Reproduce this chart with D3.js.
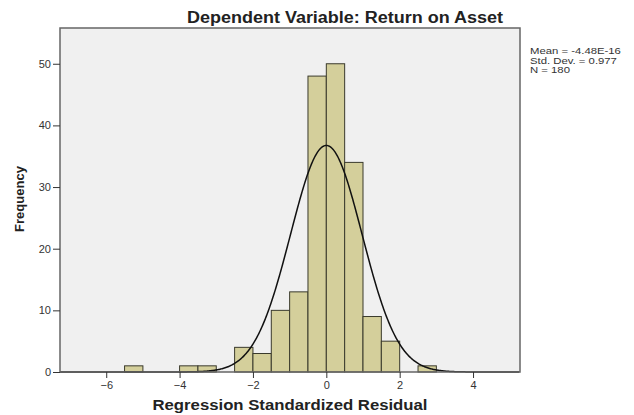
<!DOCTYPE html>
<html lang="en">
<head>
    <meta charset="UTF-8">
    <script src="https://d3js.org/d3.v7.min.js"></script>
    <title>Histogram</title>
    <style>
    body { margin: 0; background: #fff; }
    text { font-family: "Liberation Sans", Arial, sans-serif; fill: #222; }
    .axis .domain { stroke: none; }
    .axis line { stroke: #333; }
    .axis text { font-size: 11px; fill: #333; }
    </style>
</head>
<body>
    <svg id="hist" width="634" height="415"></svg>
    <script>
        // bins of the standardized residual (width 0.5) and their counts
        const binStart = [-5.5, -4, -3.5, -2.5, -2, -1.5, -1, -0.5, 0, 0.5, 1, 1.5, 2.5];
        const counts   = [1, 1, 1, 4, 3, 10, 13, 48, 50, 34, 9, 5, 1];
        const binWidth = 0.5;

        const xTicks = [-6, -4, -2, 0, 2, 4];
        const yTicks = [0, 10, 20, 30, 40, 50];

        const mean = -4.48e-16;
        const sd = 0.977;
        const n = 180;
        const statLines = ['Mean = -4.48E-16', 'Std. Dev. = 0.977', 'N = 180'];

        const svg = d3.select('svg#hist');
        const margins = {top: 28, right: 114, bottom: 43, left: 60};
        const width = +svg.attr('width');
        const height = +svg.attr('height');
        const chartWidth = width - margins.left - margins.right;
        const chartHeight = height - margins.top - margins.bottom;

        const xScale = d3.scaleLinear().domain([-7.26, 5.28]).range([0, chartWidth]);
        const yScale = d3.scaleLinear().domain([0, 55.8]).range([chartHeight, 0]);

        const chartArea = svg.append('g')
            .attr('transform', `translate(${margins.left},${margins.top})`);

        // plot background
        chartArea.append('rect')
            .attr('width', chartWidth)
            .attr('height', chartHeight)
            .attr('fill', '#f0f0f0');

        // bars
        chartArea.selectAll('rect.bar')
            .data(binStart.map((b, i) => ({x0: b, x1: b + binWidth, count: counts[i]})))
            .enter()
            .append('rect')
            .attr('class', 'bar')
            .attr('x', d => xScale(d.x0))
            .attr('y', d => yScale(d.count))
            .attr('width', d => xScale(d.x1) - xScale(d.x0))
            .attr('height', d => yScale(0) - yScale(d.count))
            .attr('fill', '#d4cf9b')
            .attr('stroke', '#3a3a2c')
            .attr('stroke-width', 1);

        // normal curve from the stated mean / sd, scaled to counts
        const pdf = x => n * binWidth / (sd * Math.sqrt(2 * Math.PI)) * Math.exp(-0.5 * ((x - mean) / sd) ** 2);
        const curvePts = d3.range(-7.26, 5.28, 0.02).map(x => [x, pdf(x)]);
        chartArea.append('path')
            .datum(curvePts)
            .attr('fill', 'none')
            .attr('stroke', '#111')
            .attr('stroke-width', 1.5)
            .attr('d', d3.line().x(d => xScale(d[0])).y(d => yScale(d[1])));

        // frame
        chartArea.append('rect')
            .attr('width', chartWidth)
            .attr('height', chartHeight)
            .attr('fill', 'none')
            .attr('stroke', '#666')
            .attr('stroke-width', 1.5);

        // axes
        chartArea.append('g')
            .attr('class', 'axis')
            .attr('transform', `translate(0,${chartHeight})`)
            .call(d3.axisBottom(xScale).tickValues(xTicks).tickSize(6).tickPadding(3));

        chartArea.append('g')
            .attr('class', 'axis')
            .call(d3.axisLeft(yScale).tickValues(yTicks).tickSize(7).tickPadding(2));

        // title (the original is a bit stretched sideways)
        svg.append('text')
            .attr('x', 345)
            .attr('y', 23)
            .attr('text-anchor', 'middle')
            .attr('textLength', 316)
            .attr('lengthAdjust', 'spacingAndGlyphs')
            .style('font-weight', 'bold')
            .style('font-size', '16px')
            .text('Dependent Variable: Return on Asset');

        // axis titles
        svg.append('text')
            .attr('x', 290)
            .attr('y', 410)
            .attr('text-anchor', 'middle')
            .attr('textLength', 275)
            .attr('lengthAdjust', 'spacingAndGlyphs')
            .style('font-weight', 'bold')
            .style('font-size', '14px')
            .text('Regression Standardized Residual');

        svg.append('text')
            .attr('transform', 'translate(24,199) rotate(-90)')
            .attr('text-anchor', 'middle')
            .style('font-weight', 'bold')
            .style('font-size', '13px')
            .text('Frequency');

        // stats block
        svg.append('g')
            .attr('transform', 'translate(530,54) scale(1.03,0.85)')
            .selectAll('text')
            .data(statLines)
            .enter()
            .append('text')
            .attr('x', 0)
            .attr('y', (d, i) => i * 11.3)
            .style('font-size', '11px')
            .style('fill', '#333')
            .text(d => d);
    </script>
</body>
</html>
